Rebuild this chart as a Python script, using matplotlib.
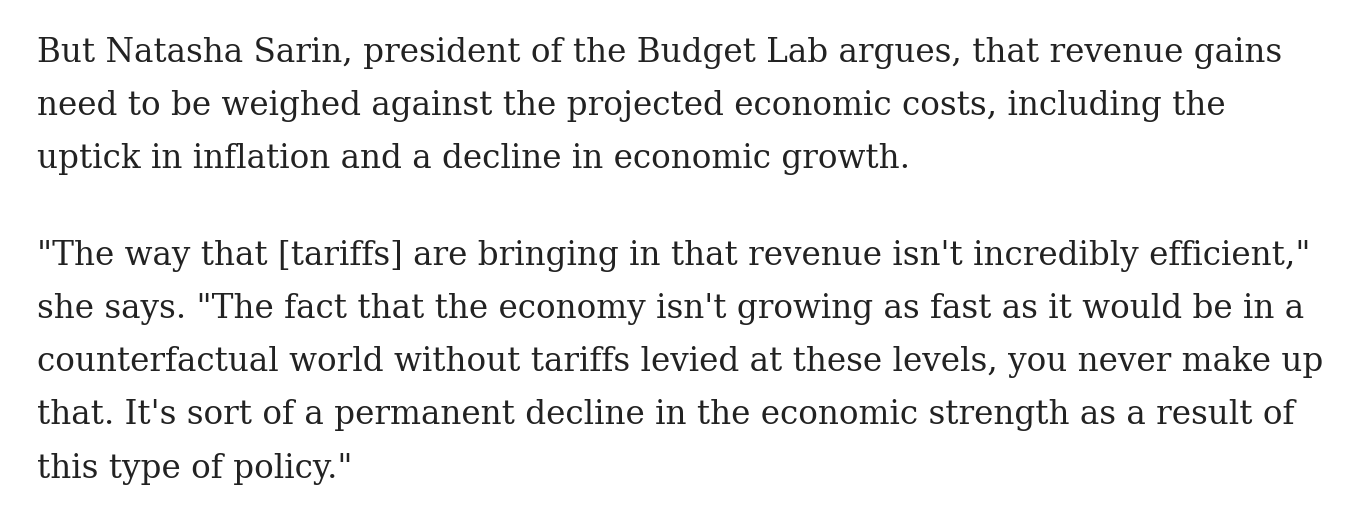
import matplotlib
matplotlib.use("Agg")
import matplotlib.pyplot as plt

# Text content (the "chart" is a block of article text)
paragraph_1 = [
    "But Natasha Sarin, president of the Budget Lab argues, that revenue gains",
    "need to be weighed against the projected economic costs, including the",
    "uptick in inflation and a decline in economic growth.",
]
paragraph_2 = [
    "\"The way that [tariffs] are bringing in that revenue isn't incredibly efficient,\"",
    "she says. \"The fact that the economy isn't growing as fast as it would be in a",
    "counterfactual world without tariffs levied at these levels, you never make up",
    "that. It's sort of a permanent decline in the economic strength as a result of",
    "this type of policy.\"",
]

W, H, DPI = 1368, 514, 100
fig = plt.figure(figsize=(W / DPI, H / DPI), dpi=DPI)
fig.patch.set_facecolor("white")

FAMILY = "DejaVu Serif"
COLOR = "#222222"
LEFT = 37
p1_baselines = [62, 115, 168]
p2_baselines = [265, 318, 371, 424, 478]

# fit font size so the longest reference line spans its measured width
ref_line = paragraph_2[2]
ref_width = 1323 - LEFT
probe = fig.text(0, 0, ref_line, fontsize=20, family=FAMILY)
fig.canvas.draw()
w = probe.get_window_extent(fig.canvas.get_renderer()).width
probe.remove()
fs = 20 * ref_width / w

for lines, bases in ((paragraph_1, p1_baselines), (paragraph_2, p2_baselines)):
    for line, b in zip(lines, bases):
        fig.text(LEFT / W, 1 - b / H, line, fontsize=fs, family=FAMILY,
                 color=COLOR, ha="left", va="baseline")

fig.savefig("out.png", dpi=DPI, facecolor="white")
